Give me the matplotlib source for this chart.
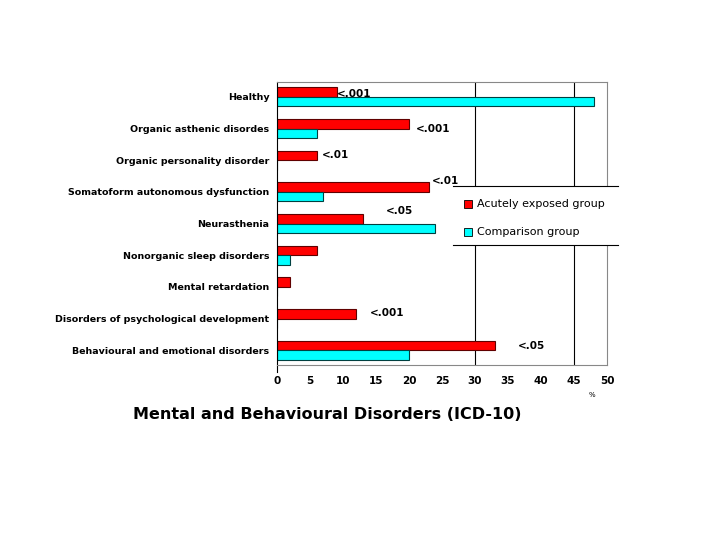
import matplotlib.pyplot as plt
from matplotlib.lines import Line2D
from matplotlib.patches import Rectangle
import numpy as np

# ICD-10 categories, top to bottom
categories = ['Healthy', 'Organic asthenic disordes', 'Organic personality disorder',
              'Somatoform autonomous dysfunction', 'Neurasthenia',
              'Nonorganic sleep disorders', 'Mental retardation',
              'Disorders of psychological development',
              'Behavioural and emotional disorders']
exposed = [9, 20, 6, 23, 13, 6, 2, 12, 33]
comparison = [48, 6, 0, 7, 24, 2, 0, 0, 20]
p_values = ['<.001', '<.001', '<.01', '<.01', '<.05', '', '', '<.001', '<.05']

# where the p-value labels sit (x in %, y offset in category units)
p_x = [9, 21, 6.7, 23.5, 16.5, 0, 0, 14, 36.5]
p_dy = [-0.1, 0.0, -0.16, -0.34, -0.39, 0, 0, -0.16, -0.12]

red = '#ff0000'
cyan = '#00ffff'

fig = plt.figure(figsize=(7.2, 5.4), dpi=100)
ax = fig.add_axes([0.385, 0.324, 0.458, 0.524])

y = np.arange(len(categories))
h = 0.3
ax.barh(y - h / 2, exposed, height=h, color=red, edgecolor='#600000', linewidth=0.8)
ax.barh(y + h / 2, comparison, height=h, color=cyan, edgecolor='#004040', linewidth=0.8)

for i, txt in enumerate(p_values):
    if txt:
        ax.text(p_x[i], i + p_dy[i], txt, fontsize=7.5, fontweight='bold',
                ha='left', va='center')

ax.set_xlim(0, 50)
ax.set_ylim(8.47, -0.47)
ax.set_xticks(np.arange(0, 51, 5))
ax.set_yticks(y)
ax.set_yticklabels(categories, fontsize=6.8, fontweight='bold')
ax.tick_params(axis='y', length=0, pad=5.5)
ax.tick_params(axis='x', length=0, pad=8, labelsize=7.5)
for lab in ax.get_xticklabels():
    lab.set_fontweight('bold')

for gx in [30, 45]:
    ax.axvline(gx, color='black', linewidth=0.8, zorder=0)

ax.spines['left'].set_color('black')
ax.spines['left'].set_bounds(8.7, -0.47)
for s in ['top', 'right', 'bottom']:
    ax.spines[s].set_color('#888888')
    ax.spines[s].set_linewidth(0.8)

# legend box with only top and bottom rules
fig.add_artist(Rectangle((0.629, 0.546), 0.231, 0.109, transform=fig.transFigure,
                         facecolor='white', edgecolor='none', zorder=3))
for ly in [0.655, 0.546]:
    fig.add_artist(Line2D([0.629, 0.858], [ly, ly], transform=fig.transFigure,
                          color='black', linewidth=0.8, zorder=4))
for ly, col, name in [(0.625, red, 'Acutely exposed group'),
                      (0.573, cyan, 'Comparison group')]:
    fig.add_artist(Rectangle((0.645, ly - 0.010), 0.011, 0.015, transform=fig.transFigure,
                             facecolor=col, edgecolor='black', linewidth=0.6, zorder=5))
    fig.text(0.662, ly - 0.002, name, fontsize=8, va='center', zorder=5)

fig.text(0.822, 0.265, '%', fontsize=5, ha='center')
fig.text(0.185, 0.233, 'Mental and Behavioural Disorders (ICD-10)',
         fontsize=11.5, fontweight='bold', ha='left', va='center')

fig.savefig('out.png', dpi=100)
